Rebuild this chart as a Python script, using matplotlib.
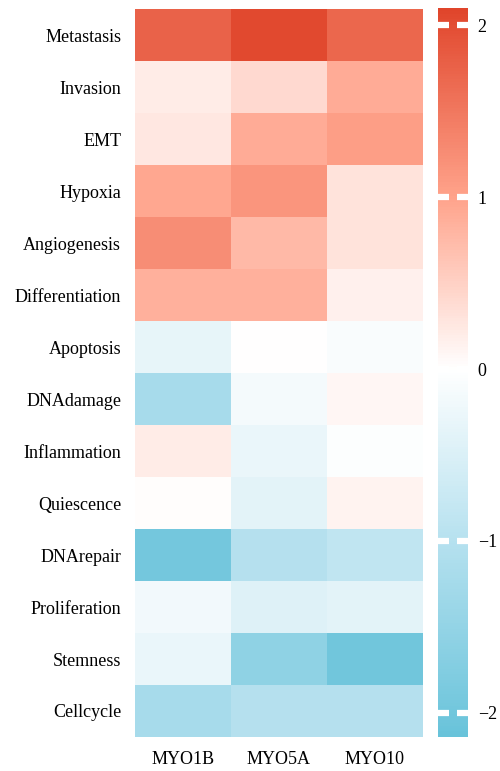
import matplotlib
matplotlib.use("Agg")
import matplotlib.pyplot as plt
from matplotlib.colors import LinearSegmentedColormap
import numpy


#####################################################################
# values
pathways = ["Metastasis", "Invasion", "EMT", "Hypoxia", "Angiogenesis",
            "Differentiation", "Apoptosis", "DNAdamage", "Inflammation",
            "Quiescence", "DNArepair", "Proliferation", "Stemness", "Cellcycle"]
genes = ["MYO1B", "MYO5A", "MYO10"]

myo1b = [1.75, 0.20, 0.25, 0.95, 1.25, 0.85, -0.32, -1.20, 0.20, 0.02, -1.95, -0.18, -0.28, -1.20]
myo5a = [2.05, 0.40, 0.90, 1.15, 0.75, 0.85, 0.00, -0.14, -0.28, -0.38, -1.00, -0.45, -1.55, -1.00]
myo10 = [1.70, 0.90, 1.05, 0.30, 0.30, 0.15, -0.08, 0.08, -0.03, 0.12, -0.85, -0.38, -2.00, -1.00]

cbar_ticks = [-2, -1, 0, 1, 2]
vmin, vmax = -2.14, 2.10

######################################################################
plt.rcParams['font.family'] = ['Liberation Serif', 'DejaVu Serif']

def pos(v):
    return (v - vmin) / (vmax - vmin)

cmap = LinearSegmentedColormap.from_list("bwr_custom", [
    (0.0, "#68C3DA"),
    (pos(-1), "#B6E1EF"),
    (pos(0), "#FFFFFF"),
    (pos(1), "#FFA38B"),
    (1.0, "#E0452B"),
])

data = numpy.array([myo1b, myo5a, myo10]).T

fig = plt.figure(figsize=(5, 7.71), dpi=100)
ax = fig.add_axes([0.27, 0.0441, 0.576, 0.9442])
cax = fig.add_axes([0.876, 0.0441, 0.06, 0.9455])

im = ax.imshow(data, cmap=cmap, vmin=vmin, vmax=vmax, aspect="auto",
               interpolation="nearest")
ax.set_xticks(range(len(genes)))
ax.set_xticklabels(genes, fontsize=13)
ax.set_yticks(range(len(pathways)))
ax.set_yticklabels(pathways, fontsize=13)
ax.tick_params(length=0, pad=10)
for s in ax.spines.values():
    s.set_visible(False)

cb = fig.colorbar(im, cax=cax, ticks=cbar_ticks)
cb.outline.set_visible(False)
cax.set_yticklabels(["\u22122", "\u22121", "0", "1", "2"])
cax.tick_params(axis="y", direction="in", length=8, width=4.5, color="white",
                left=True, right=True, labelsize=13, pad=7)

plt.savefig("out.png", dpi=100)
